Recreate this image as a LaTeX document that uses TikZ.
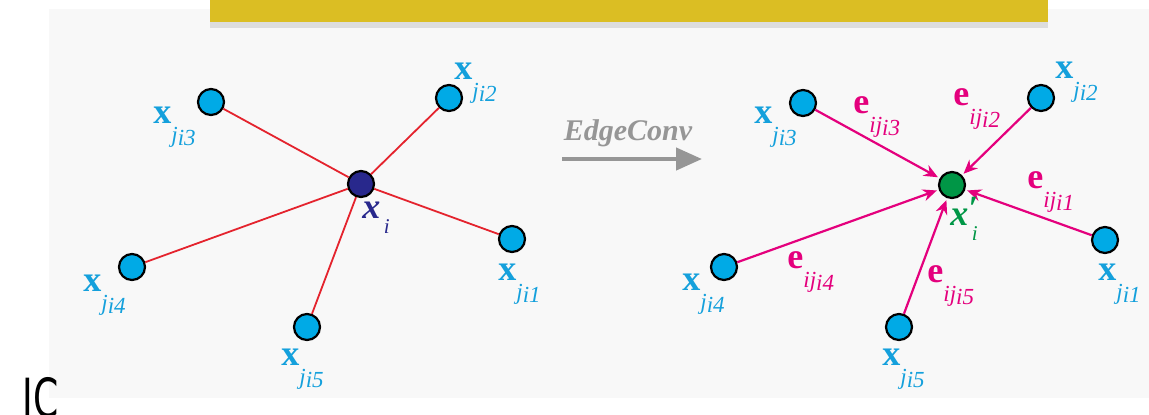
\documentclass[tikz,border=0pt]{standalone}
\usepackage{fontspec}
\setmainfont{Liberation Serif}
\newfontfamily\icfont{DejaVu Sans}
\usetikzlibrary{arrows.meta, shadows}
\usepackage{xcolor}

\definecolor{ptblue}{RGB}{0,170,230}
\definecolor{lblblue}{RGB}{20,160,220}
\definecolor{linkred}{RGB}{228,35,45}
\definecolor{flowmag}{RGB}{228,0,125}
\definecolor{ctrnavy}{RGB}{40,40,140}
\definecolor{ctrgreen}{RGB}{0,150,70}
\definecolor{panelgray}{RGB}{248,248,248}
\definecolor{banner}{RGB}{219,190,35}
\definecolor{convgray}{RGB}{150,150,150}

\newcommand{\subsz}{\fontsize{11.5pt}{12pt}\selectfont}
\newcommand{\xnb}[1]{\textbf{x}\raisebox{-9.5pt}{\subsz\itshape j\raisebox{-1.5pt}{#1}}}
\newcommand{\enb}[1]{\textbf{e}\raisebox{-9.5pt}{\subsz\itshape ij\raisebox{-1.5pt}{#1}}}

\begin{document}
\begin{tikzpicture}[
  x=0.5pt, y=-0.5pt,
  nbr/.style={circle, draw=black, line width=1.1pt, fill=ptblue,
              minimum size=13pt, inner sep=0pt},
  ctr/.style={nbr, fill=#1},
  tag/.style={anchor=base west, inner sep=0pt,
              font=\fontsize{18pt}{20pt}\selectfont},
  link/.style={linkred, line width=0.9pt},
  flow/.style={-{Stealth[length=7pt, width=6pt]}, flowmag,
               line width=1.1pt, shorten >=1pt}
]

\useasboundingbox (0,0) rectangle (1149,414);
\fill[panelgray] (49,9) rectangle (1149,398);
\fill[banner, drop shadow={shadow xshift=0pt, shadow yshift=-3pt, opacity=0.22}]
  (210,-30) rectangle (1048,22);

% left: point and its neighbours
\node[ctr=ctrnavy] (xi) at (361,184) {};
\node[nbr] (xj1) at (512,239) {};
\node[nbr] (xj2) at (449,98) {};
\node[nbr] (xj3) at (211,102) {};
\node[nbr] (xj4) at (132,267) {};
\node[nbr] (xj5) at (307,327) {};

\draw[link] (xi) -- (xj1);
\draw[link] (xi) -- (xj2);
\draw[link] (xi) -- (xj3);
\draw[link] (xi) -- (xj4);
\draw[link] (xi) -- (xj5);

\node[tag, ctrnavy] (lxi) at (362,218)
  {\textbf{\textit{x}}\raisebox{-7.5pt}{\fontsize{10.5pt}{11pt}\selectfont\itshape\,i}};
\node[tag, lblblue] (lxj1) at (498,280) {\xnb{i1}};
\node[tag, lblblue] (lxj2) at (454,79) {\xnb{i2}};
\node[tag, lblblue] (lxj3) at (153,123) {\xnb{i3}};
\node[tag, lblblue] (lxj4) at (83,291) {\xnb{i4}};
\node[tag, lblblue] (lxj5) at (281,365) {\xnb{i5}};

% operator
\node[anchor=base, inner sep=0pt, text=convgray,
      font=\fontsize{15pt}{17pt}\selectfont\bfseries\itshape] (conv) at (628,140) {EdgeConv};
\coordinate (convs) at (562,159);
\coordinate (conve) at (702,159);
\draw[-{Triangle[length=13pt, width=11pt]}, convgray, line width=2.2pt] (convs) -- (conve);

% right: edge features into the point
\node[ctr=ctrgreen] (yi) at (952,185) {};
\node[nbr] (yj1) at (1105,240) {};
\node[nbr] (yj2) at (1041,98) {};
\node[nbr] (yj3) at (803,103) {};
\node[nbr] (yj4) at (724,267) {};
\node[nbr] (yj5) at (899,327) {};

\draw[flow] (yj1) -- (yi);
\draw[flow] (yj2) -- (yi);
\draw[flow] (yj3) -- (yi);
\draw[flow] (yj4) -- (yi);
\draw[flow] (yj5) -- (yi);

\node[tag, ctrgreen] (lyi) at (950,225)
  {\textbf{\textit{x}}\rlap{\raisebox{3pt}{\fontsize{17pt}{17pt}\selectfont\bfseries\itshape ′}}\raisebox{-7.5pt}{\fontsize{10.5pt}{11pt}\selectfont\itshape\,i}};
\node[tag, lblblue] (lyj1) at (1098,280) {\xnb{i1}};
\node[tag, lblblue] (lyj2) at (1055,78) {\xnb{i2}};
\node[tag, lblblue] (lyj3) at (754,123) {\xnb{i3}};
\node[tag, lblblue] (lyj4) at (682,290) {\xnb{i4}};
\node[tag, lblblue] (lyj5) at (882,365) {\xnb{i5}};

\node[tag, flowmag] (le1) at (1027,188) {\enb{i1}};
\node[tag, flowmag] (le2) at (953,105) {\enb{i2}};
\node[tag, flowmag] (le3) at (853,113) {\enb{i3}};
\node[tag, flowmag] (le4) at (787,268) {\enb{i4}};
\node[tag, flowmag] (le5) at (927,282) {\enb{i5}};

\node[anchor=base west, inner sep=0pt, font=\icfont\fontsize{27pt}{27pt}\selectfont]
  (ic) at (22,417) {\scalebox{0.67}[1]{IC}};

\end{tikzpicture}
\end{document}
